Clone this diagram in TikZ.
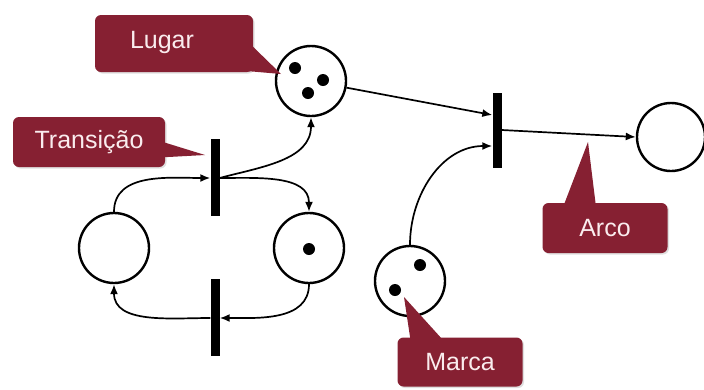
\documentclass[tikz,border=0pt]{standalone}
\usepackage{fontspec}
\setmainfont{Liberation Sans}
\usetikzlibrary{arrows.meta,shadows}
\definecolor{calloutred}{RGB}{134,32,50}
\definecolor{callouttext}{RGB}{250,236,238}
\begin{document}
\begin{tikzpicture}[x=1pt,y=1pt,
  place/.style={circle,draw=black,line width=2.4pt,minimum size=70pt,inner sep=0pt},
  token/.style={circle,fill=black,minimum size=12pt,inner sep=0pt},
  transbar/.style={rectangle,fill=black,minimum width=9pt,minimum height=77pt,inner sep=0pt},
  arc/.style={line width=1.7pt,-{Latex[length=10pt,width=8pt]}},
  calloutbox/.style={rectangle,rounded corners=6pt,fill=calloutred,
    drop shadow={opacity=0.25,shadow xshift=1.5pt,shadow yshift=-1.5pt},
    text=callouttext,font=\fontsize{25}{30}\selectfont,inner sep=0pt},
  callouttip/.style={fill=calloutred},
  callouttext/.style={text=callouttext,font=\fontsize{25}{30}\selectfont,inner sep=0pt}
]
\useasboundingbox (0,0) rectangle (704,-389);

% places
\node[place] (p1) at (311,-81) {};
\node[place] (p2) at (114,-248) {};
\node[place] (p3) at (309,-248) {};
\node[place] (p4) at (410,-281) {};
\node[place,minimum size=68pt] (p5) at (671,-137) {};

% tokens
\node[token] (k1) at (295,-68) {};
\node[token] (k2) at (323,-80) {};
\node[token] (k3) at (308,-93) {};
\node[token] (k4) at (309,-249) {};
\node[token] (k5) at (420,-265) {};
\node[token] (k6) at (395,-290) {};

% transitions
\node[transbar] (t1) at (215,-177) {};
\node[transbar] (t2) at (215,-317) {};
\node[transbar,minimum height=75pt] (t3) at (497,-130) {};

% arcs
\draw[arc] (p2.north) to[out=90,in=180] ([yshift=-1pt]t1.west);
\draw[arc] ([yshift=-1pt]t1.east) to[out=0,in=90] (p3.north);
\draw[arc] ([yshift=-1pt]t1.east) to[out=15,in=-90] (p1.south);
\draw[arc] (p3.south) to[out=-90,in=0] ([yshift=-1pt]t2.east);
\draw[arc] ([yshift=-1pt]t2.west) to[out=180,in=-90] (p2.south);
\draw[arc] (p1) -- ([yshift=15pt]t3.west);
\draw[arc] (p4.north) to[out=90,in=180] ([yshift=-16pt]t3.west);
\draw[arc] (t3.east) -- (p5.west);

% callouts
\node[calloutbox,minimum width=158pt,minimum height=57pt] (lugar) at (174,-43.5) {};
\fill[callouttip] (243,-37) -- (281,-74) -- (235,-70) -- cycle;
\node[callouttext] (lugartxt) at (162,-42) {Lugar};

\node[calloutbox,minimum width=152pt,minimum height=50pt] (transicao) at (89,-142) {Transição};
\fill[callouttip] (150,-138) -- (205,-155) -- (150,-158) -- cycle;

\node[calloutbox,minimum width=125pt,minimum height=50pt] (arco) at (605,-228) {Arco};
\fill[callouttip] (560,-215) -- (588,-142) -- (597,-215) -- cycle;

\node[calloutbox,minimum width=125pt,minimum height=49pt] (marca) at (460,-362) {Marca};
\fill[callouttip] (412,-350) -- (404,-297) -- (452,-350) -- cycle;
\end{tikzpicture}
\end{document}
